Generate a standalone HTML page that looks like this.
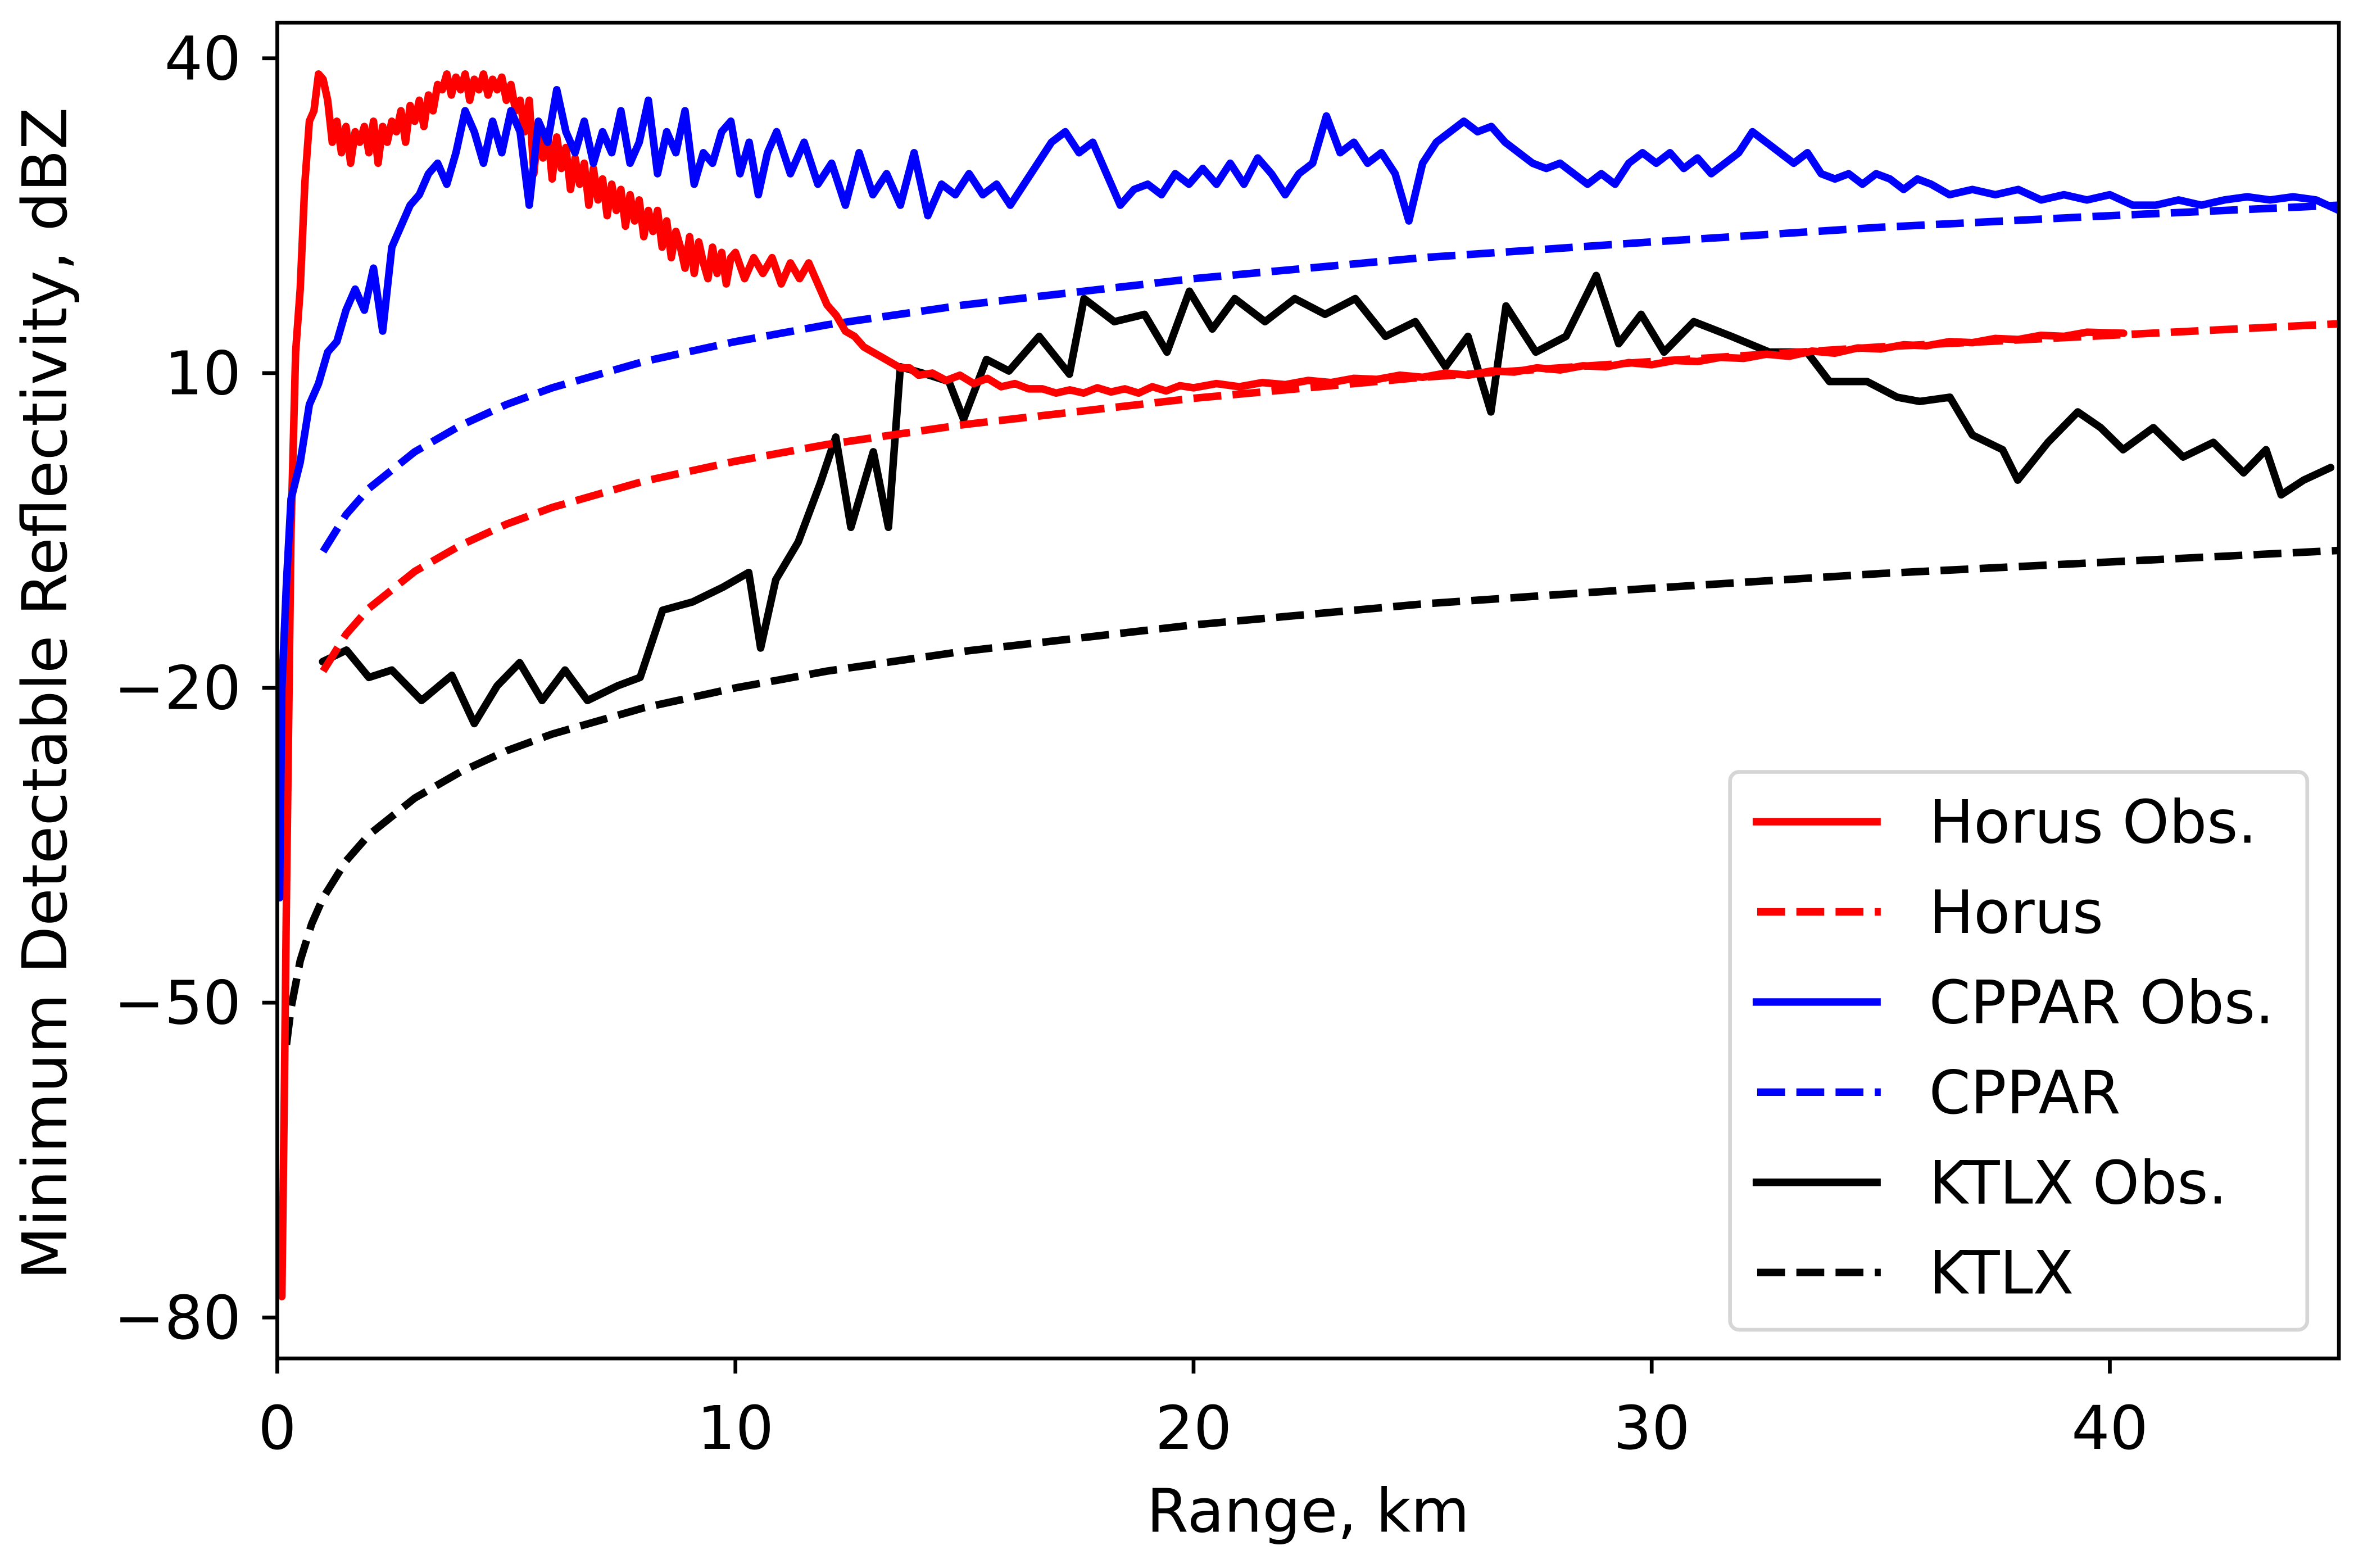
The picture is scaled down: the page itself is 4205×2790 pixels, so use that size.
<!DOCTYPE html>
<html><head><meta charset="utf-8"><style>
html,body{margin:0;padding:0;background:#fff;}
svg{display:block;}
text{font-family:"DejaVu Sans","Liberation Sans",sans-serif;fill:#000;}
</style></head><body>
<svg id="chart" width="4205" height="2790" viewBox="0 0 1568 1040" preserveAspectRatio="none" xmlns="http://www.w3.org/2000/svg">
<rect x="0" y="0" width="1568" height="1040" fill="#fff"/>
<defs><clipPath id="plotclip"><rect x="184" y="15" width="1368" height="886"/></clipPath></defs>
<g id="series" clip-path="url(#plotclip)"></g>
<rect x="184" y="15" width="1368" height="886" fill="none" stroke="#000" stroke-width="2.5"/>
<g id="axes"></g>
<text x="868" y="1016" font-size="40" text-anchor="middle">Range, km</text>
<text x="0" y="0" font-size="41" text-anchor="middle" transform="translate(44,460) rotate(-90)">Minimum Detectable Reflectivity, dBZ</text>
<g id="legend">
<rect x="1148" y="512" width="383" height="370" rx="6" fill="#fff" stroke="#d6d6d6" stroke-width="2.5"/>
</g>
</svg>
<script>
const xTicks=[0,10,20,30,40];
const yTicks=[40,10,-20,-50,-80];
const yTickLabels=["40","10","\u221220","\u221250","\u221280"];
const seriesNames=["Horus Obs.","Horus","CPPAR Obs.","CPPAR","KTLX Obs.","KTLX"];

const horusObsR=[
0.1,0.15,0.2,0.3,0.4,0.5,0.6,0.7,0.8,0.9,
1.0,1.1,1.2,1.3,1.4,1.5,1.6,1.7,1.8,1.9,
2.0,2.1,2.2,2.3,2.4,2.5,2.6,2.7,2.8,2.9,
3.0,3.1,3.2,3.3,3.4,3.5,3.6,3.7,3.8,3.9,
4.0,4.1,4.2,4.3,4.4,4.5,4.6,4.7,4.8,4.9,
5.0,5.1,5.2,5.3,5.4,5.5,5.6,5.7,5.8,5.9,
6.0,6.1,6.2,6.3,6.4,6.5,6.6,6.7,6.8,6.9,
7.0,7.1,7.2,7.3,7.4,7.5,7.6,7.7,7.8,7.9,
8.0,8.1,8.2,8.3,8.4,8.5,8.6,8.7,8.8,8.9,
9.0,9.1,9.2,9.3,9.4,9.5,9.6,9.7,9.8,9.9,
10.0,10.2,10.4,10.6,10.8,11.0,11.2,11.4,11.6,11.8,
12.0,12.2,12.4,12.6,12.8,13.0,13.2,13.4,13.6,13.8,
14.0,14.3,14.6,14.9,15.2,15.5,15.8,16.1,16.4,16.7,
17.0,17.3,17.6,17.9,18.2,18.5,18.8,19.1,19.4,19.7,
20,20.5,21,21.5,22,22.5,23,23.5,24,24.5,
25,25.5,26,26.5,27,27.5,28,28.5,29,29.5,
30,30.5,31,31.5,32,32.5,33,33.5,34,34.5,
35,35.5,36,36.5,37,37.5,38,38.5,39,39.5,
40.3];
const horusObsV=[
-78,-60,-40,-5,12,18,28,34,35,38.5,
38,36,32,34,31,33.5,30,33,32,33.5,
31,34,30,33.5,32,34,33,35,32,35.5,
34,36,33.5,36.5,35,37.5,37,38.5,36.5,38.2,
37,38.5,36,38,37,38.5,36.5,38,37,38.2,
36,37.5,35,36,33,36,29,33.5,30.5,33,
28.5,32.5,29.5,31.5,27.5,30.5,28,30,26,29.5,
26.5,28.5,25,28,25.5,27.5,24,27,24.5,26.5,
23,25.5,23.5,25.5,22,24.5,21,23.5,22,20,
23,19.5,22.5,20.5,19,22,19.5,21.5,18.5,21,
21.5,19,21,19.5,21,18.5,20.5,19,20.5,18.5,
16.5,15.5,14,13.5,12.5,12,11.5,11,10.5,10.5,
9.8,10,9.3,9.8,9,9.5,8.7,9,8.5,8.5,
8.1,8.4,8.1,8.6,8.2,8.5,8.1,8.7,8.3,8.8,
8.6,9,8.7,9.1,8.9,9.3,9.1,9.5,9.4,9.8,
9.6,10,9.8,10.2,10.1,10.5,10.3,10.7,10.6,11,
10.8,11.2,11.1,11.5,11.4,11.8,11.6,12.1,11.9,12.4,
12.3,12.7,12.6,13,12.9,13.3,13.2,13.6,13.5,13.9,
13.8];

const horusR=[1,1.5,2,3,4,5,6,8,10,12,15,20,25,30,35,40,45];
const horusV=[-18.4,-14.9,-12.4,-8.9,-6.4,-4.4,-2.8,-0.3,1.6,3.2,5.1,7.6,9.6,11.1,12.5,13.6,14.7];

const cpparObsR=[0.05,0.1,0.2,0.3,0.5,0.7,0.9,1.1,1.3,1.5,1.7,1.9,2.1,2.3,2.5,2.7,2.9,3.1,3.3,3.5,3.7,3.9,4.1,4.3,4.5,4.7,4.9,5.1,5.3,5.5,5.7,5.9,6.1,6.3,6.5,6.7,6.9,7.1,7.3,7.5,7.7,7.9,8.1,8.3,8.5,8.7,8.9,9.1,9.3,9.5,9.7,9.9,10.1,10.3,10.5,10.7,10.9,11.2,11.5,11.8,12.1,12.4,12.7,13.0,13.3,13.6,13.9,14.2,14.5,14.8,15.1,15.4,15.7,16.0,16.3,16.6,16.9,17.2,17.5,17.8,18.1,18.4,18.7,19.0,19.3,19.6,19.9,20.2,20.5,20.8,21.1,21.4,21.7,22.0,22.3,22.6,22.9,23.2,23.5,23.8,24.1,24.4,24.7,25.0,25.3,25.6,25.9,26.2,26.5,26.8,27.1,27.4,27.7,28.0,28.3,28.6,28.9,29.2,29.5,29.8,30.1,30.4,30.7,31.0,31.3,31.6,31.9,32.2,32.5,32.8,33.1,33.4,33.7,34.0,34.3,34.6,34.9,35.2,35.5,35.8,36.1,36.5,37,37.5,38,38.5,39,39.5,40,40.5,41,41.5,42,42.5,43,43.5,44,44.5,45];
const cpparObsV=[-40,-20,-10,-2,1.5,7,9,12,13,16,18,16,20,14,22,24,26,27,29,30,28,31,35,33,30,34,31,35,33,26,34,32,37,33,31,34,30,33,31,35,30,32,36,29,33,31,35,28,31,30,33,34,29,32,27,31,33,29,32,28,30,26,31,27,29,26,31,25,28,27,29,27,28,26,28,30,32,33,31,32,29,26,27.5,28,27,29,28,29.5,28,30,28,30.5,29,27,29,30,34.5,31,32,30,31,29,24.5,30,32,33,34,33,33.5,32,31,30,29.5,30,29,28,29,28,30,31,30,31,29.5,30.5,29,30,31,33,32,31,30,31,29,28.5,29,28,29,28.5,27.5,28.5,28,27,27.5,27,27.5,26.5,27,26.5,27,26,26,26.5,26,26.5,26.8,26.5,26.8,26.5,25.5];

const cpparR=[1,1.5,2,3,4,5,6,8,10,12,15,20,25,30,35,40,45];
const cpparV=[-7,-3.5,-1,2.5,5,7,8.6,11.1,13,14.6,16.5,19,21,22.5,23.9,25,26];

const ktlxObsR=[0.99,1.51,2.0,2.5,3.15,3.81,4.3,4.8,5.29,5.78,6.28,6.77,7.43,7.92,8.41,9.07,9.73,10.29,10.55,10.88,11.37,11.86,12.19,12.52,13.01,13.34,13.6,14.16,14.66,14.98,15.48,15.97,16.63,17.29,17.61,18.27,18.93,19.42,19.91,20.41,20.9,21.56,22.21,22.87,23.53,24.19,24.84,25.5,25.99,26.49,26.82,27.47,28.13,28.79,29.28,29.77,30.27,30.92,31.74,32.57,33.39,33.88,34.7,35.36,35.85,36.51,37.0,37.66,37.99,38.65,39.3,39.8,40.29,40.95,41.6,42.26,42.92,43.41,43.74,44.23,44.82];
const ktlxObsV=[-17.5,-16.4,-19.0,-18.3,-21.2,-18.8,-23.4,-19.8,-17.6,-21.2,-18.3,-21.2,-19.8,-19.0,-12.6,-11.8,-10.4,-9.0,-16.2,-9.7,-6.1,-0.4,3.9,-4.7,2.5,-4.7,10.6,9.9,9.2,5.6,11.3,10.2,13.5,9.9,17.1,14.9,15.6,12.0,17.8,14.2,17.1,14.9,17.1,15.6,17.1,13.5,14.9,10.6,13.5,6.3,16.4,12.0,13.5,19.3,12.8,15.6,12.0,14.9,13.5,12.0,12.0,9.2,9.2,7.7,7.3,7.7,4.1,2.7,-0.2,3.4,6.3,4.8,2.7,4.8,2.0,3.4,0.5,2.7,-1.6,-0.2,1.0];

const ktlxR=[0.2,0.3,0.5,0.75,1,1.5,2,3,4,5,6,8,10,12,15,20,25,30,35,40,45];
const ktlxV=[-54,-50.5,-46,-42.5,-40,-36.5,-34,-30.5,-28,-26,-24.4,-21.9,-20,-18.4,-16.5,-14,-12,-10.5,-9.1,-8,-6.9];

const NS="http://www.w3.org/2000/svg";
const X0=184,X1=1552,Y0=901,Y1=15;
const xMin=0,xMax=45,yMin=-83.9,yMax=43.4;
function xs(v){return X0+(v-xMin)/(xMax-xMin)*(X1-X0);}
function ys(v){return Y0-(v-yMin)/(yMax-yMin)*(Y0-Y1);}
function mk(tag,attrs,parent){const e=document.createElementNS(NS,tag);for(const k in attrs)e.setAttribute(k,attrs[k]);parent.appendChild(e);return e;}

const axes=document.getElementById('axes');
xTicks.forEach((t)=>{
  const tk=mk('line',{x1:xs(t),x2:xs(t),y1:901,y2:911,stroke:'#000','stroke-width':2.5},axes);
  
  
  const lb=mk('text',{x:xs(t),y:961,'font-size':40,'text-anchor':'middle'},axes);
  lb.textContent=String(t);
  
  
});
yTicks.forEach((t,i)=>{
  const tk=mk('line',{x1:174,x2:184,y1:ys(t),y2:ys(t),stroke:'#000','stroke-width':2.5},axes);
  
  
  const lb=mk('text',{x:160,y:ys(t)+14,'font-size':40,'text-anchor':'end'},axes);
  lb.textContent=yTickLabels[i];
  
  
});

const g=document.getElementById('series');
function line(R,V,color,dashed,name){
  let d='';
  const n=Math.min(R.length,V.length);
  for(let i=0;i<n;i++){d+=(i?'L':'M')+xs(R[i]).toFixed(2)+','+ys(V[i]).toFixed(2);}
  const p=mk('path',{d:d,fill:'none',stroke:color,'stroke-width':5,'stroke-linejoin':'round','stroke-linecap':dashed?'butt':'round'},g);
  if(dashed)p.setAttribute('stroke-dasharray','18.5,7.5');
  
  
}
line(ktlxR,ktlxV,'#000',true,'ktlx-line');
line(ktlxObsR,ktlxObsV,'#000',false,'ktlx-obs-line');
line(horusR,horusV,'#ff0000',true,'horus-line');
line(cpparR,cpparV,'#0000ff',true,'cppar-line');
line(horusObsR,horusObsV,'#ff0000',false,'horus-obs-line');
line(cpparObsR,cpparObsV,'#0000ff',false,'cppar-obs-line');

const leg=document.getElementById('legend');
const legColors=['#ff0000','#ff0000','#0000ff','#0000ff','#000','#000'];
seriesNames.forEach((n,i)=>{
  const y=545+i*59.8;
  const ln=mk('line',{x1:1163,x2:1248,y1:y,y2:y,stroke:legColors[i],'stroke-width':5},leg);
  if(i%2===1){ln.setAttribute('stroke-dasharray','18.5,7.5');ln.setAttribute('x1',1166);}
  
  
  const tx=mk('text',{x:1280,y:y+14,'font-size':39.5},leg);
  tx.textContent=n;
  
  
});
</script>
</body></html>
